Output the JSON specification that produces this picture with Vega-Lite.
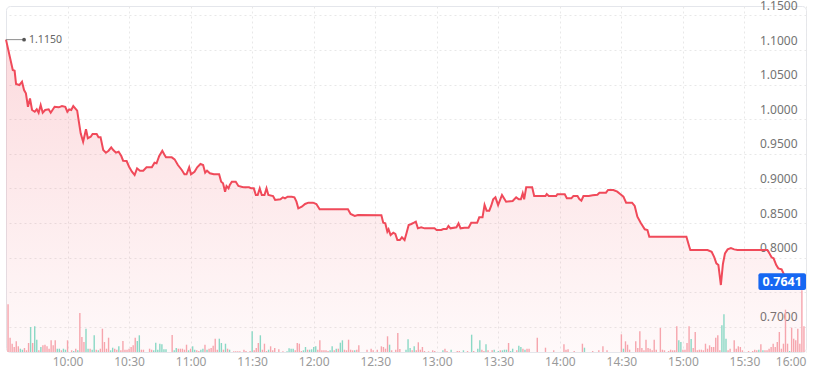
{
"$schema": "https://vega.github.io/schema/vega-lite/v6.json",
"width": 800, "height": 346,
"autosize": {"type": "none"},
"padding": {"left": 6, "top": 6, "right": 9, "bottom": 25},
"background": "#ffffff",
"config": {
 "font": "Noto Sans",
 "view": {"stroke": "#e4e6eb", "cornerRadius": 4},
 "scale": {"continuousPadding": 0},
 "axis": {"title": null, "domain": false, "ticks": false, "tickSize": 0, "gridColor": "#e8e8e8", "gridDash": [2, 3], "gridWidth": 1}
},
"datasets": {
 "price": [
  {"m":570,"p":1.115},{"m":573.3,"p":1.0711},{"m":574.2,"p":1.07},{"m":574.9,"p":1.0509},{"m":576.5,"p":1.0494},{"m":577.8,"p":1.0542},{"m":578.8,"p":1.0422},{"m":579.7,"p":1.0374},{"m":580.7,"p":1.018},{"m":581.7,"p":1.03},{"m":582.7,"p":1.0133},{"m":584,"p":1.0108},{"m":585,"p":1.0143},{"m":585.9,"p":1.0094},{"m":586.9,"p":1.0205},{"m":587.9,"p":1.0094},{"m":589.1,"p":1.0133},{"m":590.8,"p":1.0143},{"m":591.8,"p":1.0094},{"m":593.7,"p":1.018},{"m":595.7,"p":1.0172},{"m":597.3,"p":1.0191},{"m":598.9,"p":1.018},{"m":599.9,"p":1.0108},{"m":600.8,"p":1.0143},{"m":601.8,"p":1.0133},{"m":602.8,"p":1.0191},{"m":604.7,"p":1.0123},{"m":605.4,"p":0.9988},{"m":606.4,"p":0.9796},{"m":607.6,"p":0.9675},{"m":609,"p":0.9854},{"m":609.9,"p":0.9724},{"m":611.3,"p":0.9747},{"m":612.2,"p":0.9786},{"m":614.2,"p":0.9786},{"m":615.1,"p":0.9738},{"m":616.1,"p":0.9738},{"m":617.4,"p":0.9555},{"m":618.7,"p":0.9516},{"m":620,"p":0.9545},{"m":621.3,"p":0.9594},{"m":622.3,"p":0.9555},{"m":623.6,"p":0.9516},{"m":624.9,"p":0.953},{"m":626.2,"p":0.9468},{"m":627.1,"p":0.94},{"m":628.8,"p":0.9396},{"m":630,"p":0.9314},{"m":631.4,"p":0.9241},{"m":632.7,"p":0.9194},{"m":633.9,"p":0.929},{"m":635.3,"p":0.9256},{"m":636.9,"p":0.9256},{"m":638.5,"p":0.9305},{"m":641.1,"p":0.9305},{"m":642.4,"p":0.9372},{"m":643.4,"p":0.9363},{"m":644.7,"p":0.9468},{"m":646.2,"p":0.9545},{"m":647.3,"p":0.9483},{"m":648,"p":0.9449},{"m":650.8,"p":0.9449},{"m":652.2,"p":0.942},{"m":653.8,"p":0.9338},{"m":655.7,"p":0.9266},{"m":657,"p":0.9204},{"m":658,"p":0.9204},{"m":659.3,"p":0.9305},{"m":660.2,"p":0.9204},{"m":661.9,"p":0.9241},{"m":663.2,"p":0.9305},{"m":664.8,"p":0.9353},{"m":666.1,"p":0.9338},{"m":667.1,"p":0.9227},{"m":668,"p":0.9256},{"m":669.4,"p":0.9218},{"m":671.3,"p":0.9204},{"m":673.9,"p":0.9204},{"m":674.9,"p":0.9097},{"m":675.8,"p":0.9074},{"m":676.8,"p":0.8953},{"m":677.5,"p":0.9035},{"m":678.5,"p":0.9001},{"m":679.1,"p":0.9049},{"m":680.1,"p":0.9097},{"m":682,"p":0.9097},{"m":683.3,"p":0.9035},{"m":685.6,"p":0.9016},{"m":688.5,"p":0.9016},{"m":689.5,"p":0.9001},{"m":690.8,"p":0.9001},{"m":691.8,"p":0.8905},{"m":692.7,"p":0.8905},{"m":693.7,"p":0.9001},{"m":694.7,"p":0.8905},{"m":696,"p":0.8905},{"m":697,"p":0.9001},{"m":697.9,"p":0.8905},{"m":700.2,"p":0.889},{"m":701.2,"p":0.8832},{"m":703.8,"p":0.8842},{"m":705,"p":0.8871},{"m":706,"p":0.8857},{"m":707.3,"p":0.888},{"m":709.3,"p":0.888},{"m":710.6,"p":0.8871},{"m":711.6,"p":0.8808},{"m":712.5,"p":0.8712},{"m":714.2,"p":0.8736},{"m":715.8,"p":0.8775},{"m":717.4,"p":0.8794},{"m":719.7,"p":0.8794},{"m":721.3,"p":0.8775},{"m":722.9,"p":0.8698},{"m":736.7,"p":0.8698},{"m":738,"p":0.863},{"m":740,"p":0.8601},{"m":741.6,"p":0.8616},{"m":753,"p":0.8611},{"m":753.9,"p":0.8504},{"m":754.9,"p":0.8496},{"m":755.9,"p":0.8374},{"m":756.5,"p":0.8409},{"m":757.5,"p":0.8327},{"m":758.8,"p":0.836},{"m":759.8,"p":0.8341},{"m":760.8,"p":0.8254},{"m":762,"p":0.8254},{"m":763,"p":0.8293},{"m":764.3,"p":0.8254},{"m":765.3,"p":0.836},{"m":766.3,"p":0.8471},{"m":767.6,"p":0.8486},{"m":768.9,"p":0.8504},{"m":769.8,"p":0.8519},{"m":770.8,"p":0.8423},{"m":772.4,"p":0.8438},{"m":774.1,"p":0.8423},{"m":778.9,"p":0.8423},{"m":779.9,"p":0.8399},{"m":782.2,"p":0.8399},{"m":783.2,"p":0.8413},{"m":784.8,"p":0.8413},{"m":785.7,"p":0.8457},{"m":786.7,"p":0.8423},{"m":789.6,"p":0.8438},{"m":790.6,"p":0.8496},{"m":791.6,"p":0.8423},{"m":793.5,"p":0.8432},{"m":795.5,"p":0.8432},{"m":796.8,"p":0.8504},{"m":799.7,"p":0.8504},{"m":800.7,"p":0.8582},{"m":802.3,"p":0.8582},{"m":803.3,"p":0.876},{"m":804.3,"p":0.8678},{"m":805.6,"p":0.8678},{"m":806.5,"p":0.8746},{"m":807.5,"p":0.8842},{"m":808.6,"p":0.8871},{"m":809.9,"p":0.876},{"m":811.8,"p":0.8905},{"m":813.8,"p":0.8808},{"m":817,"p":0.8818},{"m":818.7,"p":0.8871},{"m":820,"p":0.8842},{"m":821,"p":0.8842},{"m":821.9,"p":0.8929},{"m":822.6,"p":0.8842},{"m":823.6,"p":0.9016},{"m":826.5,"p":0.9016},{"m":827.5,"p":0.889},{"m":833,"p":0.889},{"m":833.6,"p":0.8919},{"m":834.6,"p":0.889},{"m":838.2,"p":0.889},{"m":838.8,"p":0.8915},{"m":842.4,"p":0.8915},{"m":843.4,"p":0.8857},{"m":845.6,"p":0.8857},{"m":846.6,"p":0.889},{"m":848.6,"p":0.889},{"m":849.5,"p":0.8847},{"m":850.5,"p":0.8822},{"m":851.5,"p":0.889},{"m":854.1,"p":0.889},{"m":856,"p":0.89},{"m":858.3,"p":0.8909},{"m":859.3,"p":0.8938},{"m":862.5,"p":0.8938},{"m":863.5,"p":0.8977},{"m":866.1,"p":0.8977},{"m":868,"p":0.8953},{"m":869.4,"p":0.8919},{"m":871,"p":0.888},{"m":872.3,"p":0.8794},{"m":875.2,"p":0.8794},{"m":876.5,"p":0.8746},{"m":877.8,"p":0.8591},{"m":879.4,"p":0.8504},{"m":881.4,"p":0.8409},{"m":882.7,"p":0.8399},{"m":883.6,"p":0.8302},{"m":901.7,"p":0.8302},{"m":903,"p":0.8168},{"m":903.6,"p":0.811},{"m":912,"p":0.811},{"m":914,"p":0.8085},{"m":915.3,"p":0.8004},{"m":916.3,"p":0.7917},{"m":917.3,"p":0.7893},{"m":918.5,"p":0.7604},{"m":919.5,"p":0.7908},{"m":920.5,"p":0.8061},{"m":921.8,"p":0.8119},{"m":923.4,"p":0.8138},{"m":925,"p":0.8119},{"m":926.6,"p":0.811},{"m":941.2,"p":0.811},{"m":942.2,"p":0.8061},{"m":943.2,"p":0.8004},{"m":944.2,"p":0.799},{"m":945.5,"p":0.7893},{"m":946.5,"p":0.7845},{"m":948.1,"p":0.7831},{"m":949.4,"p":0.7749},{"m":958,"p":0.7641}
 ],
 "vol": [
  {"m":571,"v":47.7,"s":"d"},{"m":572,"v":14.3,"s":"d"},{"m":573,"v":8.3,"s":"d"},{"m":574,"v":5,"s":"d"},{"m":575,"v":10.7,"s":"d"},{"m":576,"v":5.7,"s":"d"},{"m":577,"v":3.3,"s":"u"},{"m":578,"v":2.3,"s":"u"},{"m":579,"v":4,"s":"d"},{"m":580,"v":1.7,"s":"d"},{"m":581,"v":9,"s":"d"},{"m":582,"v":25,"s":"u"},{"m":583,"v":9,"s":"d"},{"m":584,"v":25.7,"s":"u"},{"m":585,"v":12.3,"s":"u"},{"m":586,"v":1.7,"s":"d"},{"m":587,"v":5,"s":"u"},{"m":588,"v":6.7,"s":"d"},{"m":589,"v":7.3,"s":"d"},{"m":590,"v":5.7,"s":"d"},{"m":591,"v":3.3,"s":"d"},{"m":592,"v":11.7,"s":"d"},{"m":593,"v":6.7,"s":"d"},{"m":594,"v":11.7,"s":"d"},{"m":595,"v":3.3,"s":"u"},{"m":596,"v":3.3,"s":"u"},{"m":597,"v":1.7,"s":"d"},{"m":598,"v":3.3,"s":"u"},{"m":599,"v":2.3,"s":"u"},{"m":600,"v":11.7,"s":"d"},{"m":602,"v":1.7,"s":"d"},{"m":603,"v":1,"s":"u"},{"m":604,"v":3.3,"s":"d"},{"m":605,"v":1.7,"s":"u"},{"m":606,"v":39,"s":"d"},{"m":607,"v":15,"s":"d"},{"m":608,"v":10,"s":"d"},{"m":609,"v":23.3,"s":"u"},{"m":610,"v":3.3,"s":"u"},{"m":611,"v":3.3,"s":"d"},{"m":612,"v":2.3,"s":"u"},{"m":613,"v":16.7,"s":"u"},{"m":614,"v":2.3,"s":"d"},{"m":615,"v":1.7,"s":"u"},{"m":616,"v":3.3,"s":"d"},{"m":617,"v":23.3,"s":"d"},{"m":618,"v":10,"s":"d"},{"m":619,"v":3.3,"s":"d"},{"m":620,"v":14.3,"s":"d"},{"m":621,"v":1.7,"s":"u"},{"m":622,"v":4.3,"s":"u"},{"m":623,"v":3.3,"s":"d"},{"m":624,"v":2.3,"s":"d"},{"m":625,"v":5.7,"s":"u"},{"m":626,"v":1.7,"s":"d"},{"m":627,"v":11,"s":"d"},{"m":628,"v":2.3,"s":"d"},{"m":629,"v":2.3,"s":"d"},{"m":630,"v":3.3,"s":"d"},{"m":631,"v":5,"s":"d"},{"m":632,"v":6.7,"s":"d"},{"m":633,"v":14.3,"s":"d"},{"m":634,"v":11,"s":"u"},{"m":635,"v":16.7,"s":"u"},{"m":636,"v":2.3,"s":"d"},{"m":637,"v":2.3,"s":"d"},{"m":640,"v":3.3,"s":"d"},{"m":641,"v":2.3,"s":"d"},{"m":642,"v":1.7,"s":"u"},{"m":643,"v":9.3,"s":"u"},{"m":644,"v":2.3,"s":"u"},{"m":645,"v":8.3,"s":"u"},{"m":646,"v":7.7,"s":"u"},{"m":647,"v":2.7,"s":"u"},{"m":648,"v":2.7,"s":"u"},{"m":651,"v":17,"s":"d"},{"m":652,"v":1.7,"s":"u"},{"m":653,"v":4,"s":"u"},{"m":654,"v":3.3,"s":"d"},{"m":655,"v":3.3,"s":"d"},{"m":656,"v":3.3,"s":"d"},{"m":657,"v":2.3,"s":"d"},{"m":658,"v":7.3,"s":"d"},{"m":659,"v":1.7,"s":"u"},{"m":660,"v":3.3,"s":"d"},{"m":661,"v":5.7,"s":"u"},{"m":662,"v":2.3,"s":"u"},{"m":663,"v":1.7,"s":"d"},{"m":664,"v":1,"s":"d"},{"m":665,"v":2.3,"s":"u"},{"m":666,"v":3.3,"s":"u"},{"m":667,"v":7.3,"s":"d"},{"m":668,"v":2.3,"s":"u"},{"m":669,"v":3.3,"s":"d"},{"m":670,"v":4,"s":"d"},{"m":671,"v":6.3,"s":"d"},{"m":672,"v":13.3,"s":"d"},{"m":673,"v":2.3,"s":"d"},{"m":674,"v":13.3,"s":"u"},{"m":675,"v":9,"s":"u"},{"m":676,"v":2.3,"s":"d"},{"m":677,"v":8.3,"s":"u"},{"m":678,"v":3.3,"s":"d"},{"m":679,"v":2.3,"s":"u"},{"m":681,"v":0.7,"s":"d"},{"m":682,"v":0.7,"s":"d"},{"m":683,"v":0.7,"s":"d"},{"m":684,"v":0.7,"s":"d"},{"m":686,"v":2.3,"s":"d"},{"m":687,"v":1,"s":"d"},{"m":689,"v":1,"s":"d"},{"m":690,"v":20.7,"s":"u"},{"m":691,"v":1.7,"s":"d"},{"m":692,"v":4,"s":"d"},{"m":693,"v":9,"s":"d"},{"m":694,"v":16.7,"s":"u"},{"m":695,"v":2.3,"s":"d"},{"m":696,"v":8.3,"s":"d"},{"m":697,"v":1,"s":"d"},{"m":698,"v":2.3,"s":"u"},{"m":699,"v":5.7,"s":"d"},{"m":700,"v":1.7,"s":"d"},{"m":701,"v":4,"s":"d"},{"m":703,"v":2.7,"s":"d"},{"m":705,"v":0.7,"s":"d"},{"m":707,"v":0.7,"s":"u"},{"m":708,"v":3.7,"s":"u"},{"m":709,"v":3.3,"s":"u"},{"m":710,"v":3.3,"s":"u"},{"m":711,"v":1.7,"s":"d"},{"m":712,"v":9,"s":"d"},{"m":713,"v":8.3,"s":"d"},{"m":714,"v":1,"s":"d"},{"m":715,"v":1.7,"s":"u"},{"m":716,"v":5,"s":"u"},{"m":717,"v":2.3,"s":"d"},{"m":718,"v":2.3,"s":"u"},{"m":719,"v":2.7,"s":"u"},{"m":720,"v":5,"s":"u"},{"m":721,"v":5.7,"s":"u"},{"m":722,"v":2.3,"s":"d"},{"m":723,"v":11.7,"s":"d"},{"m":724,"v":1.7,"s":"d"},{"m":725,"v":1.7,"s":"d"},{"m":726,"v":1.7,"s":"d"},{"m":727,"v":1,"s":"d"},{"m":728,"v":1.7,"s":"u"},{"m":729,"v":5.7,"s":"u"},{"m":730,"v":1.7,"s":"d"},{"m":731,"v":3.3,"s":"u"},{"m":732,"v":3.3,"s":"d"},{"m":733,"v":9.3,"s":"u"},{"m":734,"v":11.7,"s":"u"},{"m":735,"v":2.3,"s":"d"},{"m":736,"v":1.7,"s":"d"},{"m":737,"v":12.3,"s":"d"},{"m":738,"v":2.3,"s":"d"},{"m":739,"v":1.7,"s":"d"},{"m":740,"v":1.7,"s":"u"},{"m":741,"v":2.3,"s":"d"},{"m":742,"v":6.7,"s":"d"},{"m":746,"v":2.3,"s":"d"},{"m":748,"v":3.3,"s":"d"},{"m":749,"v":1.7,"s":"d"},{"m":751,"v":2.3,"s":"d"},{"m":753,"v":5.7,"s":"d"},{"m":754,"v":5,"s":"d"},{"m":755,"v":3.3,"s":"d"},{"m":756,"v":15.7,"s":"d"},{"m":757,"v":7.3,"s":"u"},{"m":758,"v":1.7,"s":"d"},{"m":760,"v":2.3,"s":"d"},{"m":761,"v":19,"s":"d"},{"m":762,"v":3,"s":"d"},{"m":765,"v":2.3,"s":"u"},{"m":766,"v":12.7,"s":"u"},{"m":767,"v":4,"s":"u"},{"m":768,"v":1.7,"s":"d"},{"m":769,"v":5.7,"s":"u"},{"m":770,"v":1.7,"s":"d"},{"m":771,"v":9.7,"s":"d"},{"m":772,"v":2.3,"s":"d"},{"m":773,"v":5,"s":"d"},{"m":774,"v":1,"s":"d"},{"m":776,"v":0.7,"s":"d"},{"m":778,"v":1.7,"s":"d"},{"m":779,"v":1,"s":"d"},{"m":783,"v":1.7,"s":"u"},{"m":784,"v":3.3,"s":"d"},{"m":785,"v":1,"s":"d"},{"m":787,"v":2.3,"s":"u"},{"m":790,"v":1,"s":"d"},{"m":791,"v":1,"s":"d"},{"m":793,"v":1.7,"s":"u"},{"m":795,"v":1,"s":"d"},{"m":797,"v":17.3,"s":"u"},{"m":798,"v":1,"s":"d"},{"m":800,"v":3.3,"s":"u"},{"m":801,"v":11.7,"s":"u"},{"m":802,"v":2.3,"s":"d"},{"m":803,"v":1,"s":"d"},{"m":804,"v":7.7,"s":"u"},{"m":805,"v":1.7,"s":"d"},{"m":807,"v":1.7,"s":"d"},{"m":808,"v":2.3,"s":"u"},{"m":810,"v":1,"s":"u"},{"m":811,"v":1.7,"s":"d"},{"m":812,"v":1.7,"s":"u"},{"m":813,"v":2.3,"s":"u"},{"m":814,"v":2.3,"s":"u"},{"m":815,"v":9,"s":"d"},{"m":816,"v":1,"s":"u"},{"m":817,"v":3.3,"s":"u"},{"m":819,"v":1.7,"s":"d"},{"m":820,"v":6.3,"s":"u"},{"m":821,"v":5,"s":"u"},{"m":822,"v":3.3,"s":"d"},{"m":823,"v":2.3,"s":"u"},{"m":824,"v":3.3,"s":"d"},{"m":825,"v":3.3,"s":"d"},{"m":829,"v":14.3,"s":"d"},{"m":833,"v":4.3,"s":"d"},{"m":837,"v":1.7,"s":"d"},{"m":842,"v":7.7,"s":"d"},{"m":843,"v":2.3,"s":"d"},{"m":844,"v":2.7,"s":"d"},{"m":847,"v":1,"s":"d"},{"m":851,"v":8.3,"s":"d"},{"m":852,"v":4.3,"s":"u"},{"m":856,"v":1,"s":"d"},{"m":859,"v":1.7,"s":"d"},{"m":861,"v":5.7,"s":"d"},{"m":863,"v":1.7,"s":"d"},{"m":870,"v":17.7,"s":"d"},{"m":871,"v":3.3,"s":"u"},{"m":872,"v":10.7,"s":"d"},{"m":873,"v":7.3,"s":"d"},{"m":874,"v":2.3,"s":"d"},{"m":877,"v":10.7,"s":"d"},{"m":878,"v":4,"s":"d"},{"m":879,"v":20.7,"s":"d"},{"m":880,"v":4,"s":"d"},{"m":881,"v":1.7,"s":"d"},{"m":882,"v":12.3,"s":"d"},{"m":883,"v":4,"s":"d"},{"m":884,"v":3.3,"s":"d"},{"m":885,"v":1.7,"s":"d"},{"m":886,"v":12.3,"s":"d"},{"m":887,"v":2.3,"s":"d"},{"m":889,"v":24,"s":"d"},{"m":890,"v":2.3,"s":"d"},{"m":891,"v":1.7,"s":"d"},{"m":893,"v":1,"s":"d"},{"m":894,"v":2.3,"s":"d"},{"m":895,"v":1.7,"s":"d"},{"m":896,"v":1.7,"s":"d"},{"m":897,"v":25.7,"s":"d"},{"m":898,"v":11.7,"s":"u"},{"m":899,"v":10,"s":"u"},{"m":900,"v":2.3,"s":"d"},{"m":901,"v":2.3,"s":"d"},{"m":902,"v":9,"s":"d"},{"m":903,"v":25.7,"s":"d"},{"m":904,"v":13,"s":"u"},{"m":905,"v":4,"s":"d"},{"m":906,"v":20,"s":"d"},{"m":907,"v":1.7,"s":"d"},{"m":908,"v":2.3,"s":"d"},{"m":909,"v":2.3,"s":"d"},{"m":910,"v":1.7,"s":"d"},{"m":911,"v":8.3,"s":"d"},{"m":912,"v":3.3,"s":"d"},{"m":913,"v":6.7,"s":"d"},{"m":914,"v":5,"s":"d"},{"m":915,"v":5,"s":"d"},{"m":916,"v":14.3,"s":"d"},{"m":917,"v":16.7,"s":"d"},{"m":918,"v":1.7,"s":"d"},{"m":919,"v":26.7,"s":"u"},{"m":920,"v":37.7,"s":"u"},{"m":921,"v":13.3,"s":"u"},{"m":922,"v":1.7,"s":"d"},{"m":923,"v":3.3,"s":"d"},{"m":925,"v":11.7,"s":"d"},{"m":926,"v":3.3,"s":"d"},{"m":927,"v":5.7,"s":"d"},{"m":928,"v":5,"s":"d"},{"m":929,"v":1.7,"s":"d"},{"m":932,"v":1,"s":"d"},{"m":934,"v":1,"s":"d"},{"m":935,"v":2.3,"s":"d"},{"m":936,"v":1.7,"s":"d"},{"m":937,"v":2.3,"s":"u"},{"m":938,"v":7.7,"s":"d"},{"m":939,"v":1.7,"s":"u"},{"m":940,"v":1.7,"s":"d"},{"m":941,"v":1.7,"s":"d"},{"m":942,"v":3.3,"s":"d"},{"m":943,"v":5,"s":"d"},{"m":944,"v":8.3,"s":"d"},{"m":945,"v":5,"s":"d"},{"m":946,"v":10,"s":"d"},{"m":947,"v":20,"s":"d"},{"m":948,"v":3.3,"s":"d"},{"m":949,"v":8.3,"s":"d"},{"m":950,"v":42.3,"s":"d"},{"m":951,"v":8.3,"s":"d"},{"m":952,"v":1,"s":"u"},{"m":953,"v":24.3,"s":"d"},{"m":954,"v":13.3,"s":"d"},{"m":955,"v":11.7,"s":"d"},{"m":956,"v":23.3,"s":"d"},{"m":957,"v":8.3,"s":"d"},{"m":958,"v":61.7,"s":"d"},{"m":959,"v":25.7,"s":"d"}
 ],
 "ann": [{"m0": 570, "m1": 578.8, "p": 1.115, "label": "1.1150"}],
 "tag": [{"m0": 936.8, "m1": 960, "lo": 0.7532, "hi": 0.7773, "p": 0.7652, "mc": 948.4, "label": "0.7641"}]
},
"resolve": {"scale": {"y": "independent"}, "axis": {"x": "independent"}},
"layer": [
 {
  "data": {"name": "price"},
  "mark": {"type": "area", "interpolate": "linear", "clip": true, "color": {"gradient": "linear", "x1": 0, "y1": 0, "x2": 0, "y2": 1, "stops": [{"offset": 0, "color": "rgba(240,74,90,0.2)"}, {"offset": 1, "color": "rgba(240,74,90,0.03)"}]}},
  "encoding": {
   "x": {"field": "m", "type": "quantitative", "scale": {"domain": [570, 960], "nice": false, "zero": false, "padding": 0},
    "axis": {"orient": "bottom", "values": [600, 630, 660, 690, 720, 750, 780, 810, 840, 870, 900, 930, 960], "labelExpr": "floor(datum.value/60) + ':' + (datum.value % 60 == 0 ? '00' : '30')", "labelColor": "#9a9a9a", "labelFontSize": 12, "labelPadding": 4, "labelFlush": true, "grid": true}},
   "y": {"field": "p", "type": "quantitative", "scale": {"domain": [0.6636, 1.1636], "nice": false, "zero": false},
    "axis": {"orient": "right", "values": [0.7, 0.75, 0.8, 0.85, 0.9, 0.95, 1.0, 1.05, 1.1, 1.15], "format": ".4f", "labelAlign": "right", "labelBaseline": "bottom", "labelPadding": -9, "labelOffset": -3, "labelColor": "#737373", "labelFontSize": 12, "grid": true}},
   "y2": {"datum": 0.6636}
  }
 },
 {
  "data": {"name": "vol"},
  "mark": {"type": "bar", "width": 1.4},
  "encoding": {
   "x": {"field": "m", "type": "quantitative", "scale": {"domain": [570, 960], "nice": false, "zero": false, "padding": 0}, "axis": null},
   "y": {"field": "v", "type": "quantitative", "scale": {"domain": [0, 346]}, "axis": null},
   "color": {"field": "s", "type": "nominal", "scale": {"domain": ["u", "d"], "range": ["#8ad8c5", "#f6a5ad"]}, "legend": null}
  }
 },
 {
  "data": {"name": "price"},
  "mark": {"type": "line", "color": "#f04a5a", "strokeWidth": 2, "interpolate": "linear"},
  "encoding": {
   "x": {"field": "m", "type": "quantitative", "scale": {"domain": [570, 960], "nice": false, "zero": false, "padding": 0}, "axis": null},
   "y": {"field": "p", "type": "quantitative", "scale": {"domain": [0.6636, 1.1636], "nice": false, "zero": false}, "axis": null}
  }
 },
 {
  "data": {"name": "ann"},
  "layer": [
   {"mark": {"type": "rule", "color": "#8c8c8c", "strokeWidth": 1},
    "encoding": {"x": {"field": "m0", "type": "quantitative", "scale": {"domain": [570, 960], "nice": false, "zero": false, "padding": 0}, "axis": null}, "x2": {"field": "m1"},
     "y": {"field": "p", "type": "quantitative", "scale": {"domain": [0.6636, 1.1636], "nice": false, "zero": false}, "axis": null}}},
   {"mark": {"type": "point", "filled": true, "color": "#555555", "size": 14, "opacity": 1},
    "encoding": {"x": {"field": "m1", "type": "quantitative", "scale": {"domain": [570, 960], "nice": false, "zero": false, "padding": 0}, "axis": null},
     "y": {"field": "p", "type": "quantitative", "scale": {"domain": [0.6636, 1.1636], "nice": false, "zero": false}, "axis": null}}},
   {"mark": {"type": "text", "align": "left", "baseline": "middle", "dx": 5, "fontSize": 10.5, "color": "#666666"},
    "encoding": {"x": {"field": "m1", "type": "quantitative", "scale": {"domain": [570, 960], "nice": false, "zero": false, "padding": 0}, "axis": null},
     "y": {"field": "p", "type": "quantitative", "scale": {"domain": [0.6636, 1.1636], "nice": false, "zero": false}, "axis": null},
     "text": {"field": "label"}}}
  ]
 },
 {
  "data": {"name": "tag"},
  "layer": [
   {"mark": {"type": "rect", "color": "#1667f2", "cornerRadius": 2},
    "encoding": {"x": {"field": "m0", "type": "quantitative", "scale": {"domain": [570, 960], "nice": false, "zero": false, "padding": 0}, "axis": null}, "x2": {"field": "m1"},
     "y": {"field": "lo", "type": "quantitative", "scale": {"domain": [0.6636, 1.1636], "nice": false, "zero": false}, "axis": null}, "y2": {"field": "hi"}}},
   {"mark": {"type": "text", "align": "center", "baseline": "middle", "fontSize": 12.5, "fontWeight": "bold", "color": "#ffffff"},
    "encoding": {"x": {"field": "mc", "type": "quantitative", "scale": {"domain": [570, 960], "nice": false, "zero": false, "padding": 0}, "axis": null},
     "y": {"field": "p", "type": "quantitative", "scale": {"domain": [0.6636, 1.1636], "nice": false, "zero": false}, "axis": null},
     "text": {"field": "label"}}}
  ]
 }
]
}
